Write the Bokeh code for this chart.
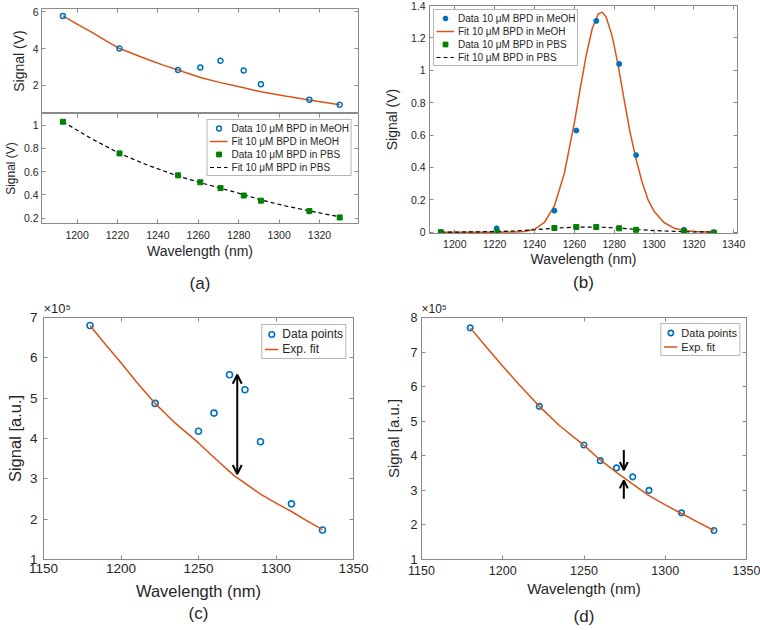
from bokeh.plotting import figure
from bokeh.layouts import row, column
from bokeh.models import Legend, LegendItem, FixedTicker, LinearAxis, Arrow, OpenHead
from bokeh.embed import file_html
from bokeh.resources import INLINE

FONT = "Liberation Sans"
BLUE = "#0072BD"
ORANGE = "#D95319"
GREEN = "#008000"
FRAME = "#8a8a8a"
TXT = "#262626"
NAN = float("nan")

# ---------------- data ----------------
# panel (a) and (b): wavelengths (nm)
wl_ab = [1193, 1221, 1250, 1261, 1271, 1282.5, 1291, 1315, 1330]
# (a) top: 10 uM BPD in MeOH (V)
a_meoh = [5.78, 4.00, 2.83, 2.97, 3.33, 2.80, 2.05, 1.20, 0.93]
a_fit_meoh_x = [1193, 1200, 1207, 1214, 1221, 1228, 1236, 1243, 1250, 1261, 1271, 1282, 1291, 1303, 1315, 1322, 1330]
a_fit_meoh = [5.78, 5.33, 4.91, 4.45, 4.00, 3.70, 3.36, 3.08, 2.83, 2.42, 2.14, 1.87, 1.64, 1.41, 1.19, 1.07, 0.93]
# (a) bottom: 10 uM BPD in PBS (V)
a_pbs = [1.03, 0.757, 0.568, 0.508, 0.458, 0.394, 0.350, 0.260, 0.205]
a_fit_pbs_x = [1193, 1207, 1221, 1235, 1250, 1261, 1271, 1282.5, 1291, 1303, 1315, 1330]
a_fit_pbs = [1.03, 0.885, 0.757, 0.655, 0.562, 0.505, 0.458, 0.402, 0.356, 0.305, 0.262, 0.21]
# (b)
b_meoh = [0.0, 0.024, 0.133, 0.628, 1.305, 1.039, 0.476, 0.015, 0.0]
b_pbs = [0.0, 0.003, 0.026, 0.032, 0.032, 0.024, 0.015, 0.005, -0.003]
b_fit_meoh_x = [1193, 1200, 1210, 1220, 1230, 1235, 1240, 1245, 1250, 1255, 1260, 1263, 1266, 1269,
                1272, 1274, 1276, 1279, 1282, 1285, 1288, 1291, 1294, 1297, 1300, 1305, 1310, 1315, 1320, 1330]
b_fit_meoh = [0.0, 0.0, 0.0, 0.0, 0.001, 0.005, 0.018, 0.06, 0.162, 0.364, 0.675, 0.89, 1.095, 1.258,
              1.348, 1.359, 1.328, 1.211, 1.03, 0.818, 0.615, 0.45, 0.31, 0.20, 0.13, 0.06, 0.025, 0.01, 0.004, 0.0]
b_fit_pbs_x = [1193, 1210, 1221, 1230, 1240, 1250, 1261, 1271, 1282, 1291, 1300, 1315, 1330]
b_fit_pbs = [0.0, 0.002, 0.004, 0.008, 0.015, 0.025, 0.031, 0.032, 0.026, 0.017, 0.010, 0.003, 0.001]
# (c) signal in units of 1e5 a.u.
c_wl = [1180, 1222, 1250, 1260, 1270, 1280, 1290, 1310, 1330]
c_sig = [6.80, 4.87, 4.18, 4.63, 5.58, 5.21, 3.92, 2.38, 1.73]
c_fit_x = [1180, 1190, 1200, 1210, 1222, 1235, 1250, 1260, 1273, 1290, 1300, 1310, 1320, 1330]
c_fit = [6.80, 6.33, 5.88, 5.40, 4.87, 4.38, 3.89, 3.53, 3.08, 2.62, 2.40, 2.19, 1.96, 1.74]
c_arrow_x = 1275
c_arrow_y = [3.12, 5.58]
# (d)
d_wl = [1180, 1222.5, 1250, 1260, 1270, 1280, 1290, 1310, 1330]
d_sig = [7.70, 5.43, 4.31, 3.86, 3.65, 3.39, 3.00, 2.35, 1.84]
d_fit_x = [1180, 1190, 1200, 1210, 1222.5, 1235, 1250, 1260, 1270, 1280, 1290, 1300, 1310, 1320, 1330]
d_fit = [7.70, 7.14, 6.59, 6.06, 5.43, 4.87, 4.30, 3.88, 3.52, 3.18, 2.85, 2.58, 2.33, 2.08, 1.84]
d_arrow_x = 1274.5
d_arrow_down = [4.17, 3.59]
d_arrow_up = [2.76, 3.29]

# ticks
a_xticks = [1200, 1220, 1240, 1260, 1280, 1300, 1320]
b_xticks = [1200, 1220, 1240, 1260, 1280, 1300, 1320, 1340]
cd_xticks = [1150, 1200, 1250, 1300, 1350]
a_top_yticks = [2, 4, 6]
a_bot_yticks = [0.2, 0.4, 0.6, 0.8, 1.0]
a_bot_ylabels = ["0.2", "0.4", "0.6", "0.8", "1"]
b_yticks = [0.0, 0.2, 0.4, 0.6, 0.8, 1.0, 1.2, 1.4]
b_ylabels = ["0", "0.2", "0.4", "0.6", "0.8", "1", "1.2", "1.4"]
c_yticks = [1, 2, 3, 4, 5, 6, 7]
d_yticks = [1, 2, 3, 4, 5, 6, 7, 8]

lbl_meoh_data = "Data 10 \u03bcM BPD in MeOH"
lbl_meoh_fit = "Fit 10 \u03bcM BPD in MeOH"
lbl_pbs_data = "Data 10 \u03bcM BPD in PBS"
lbl_pbs_fit = "Fit 10 \u03bcM BPD in PBS"


def make_fig(w, h, xr, yr, bl, br, bt, bb, **kw):
    p = figure(width=w, height=h, x_range=xr, y_range=yr, output_backend="svg",
               toolbar_location=None, min_border_left=bl, min_border_right=br,
               min_border_top=bt, min_border_bottom=bb, **kw)
    p.xgrid.visible = False
    p.ygrid.visible = False
    p.outline_line_color = FRAME
    p.outline_line_width = 1
    p.background_fill_color = "white"
    p.border_fill_color = "white"
    return p


def style_axis(ax, ticks, labels, tick_font, lab_font, tick_standoff, lab_standoff, label):
    ax.ticker = FixedTicker(ticks=ticks)
    if labels is not None:
        ax.major_label_overrides = {t: s for t, s in zip(ticks, labels)}
    ax.major_tick_in = 4
    ax.major_tick_out = 0
    ax.minor_tick_line_color = None
    ax.axis_line_color = FRAME
    ax.major_tick_line_color = FRAME
    ax.major_label_text_font = FONT
    ax.major_label_text_font_size = tick_font
    ax.major_label_text_color = TXT
    ax.major_label_standoff = tick_standoff
    ax.axis_label = label
    ax.axis_label_text_font = FONT
    ax.axis_label_text_font_size = lab_font
    ax.axis_label_text_font_style = "normal"
    ax.axis_label_text_color = TXT
    ax.axis_label_standoff = lab_standoff


def tick_only_axis(ticks):
    # inward ticks, no labels drawn (MATLAB-style box ticks)
    return LinearAxis(ticker=FixedTicker(ticks=ticks), axis_line_color=None,
                      major_tick_line_color=FRAME, minor_tick_line_color=None,
                      major_tick_in=4, major_tick_out=0, major_label_standoff=0,
                      major_label_text_font_size="1px", major_label_text_color=None,
                      major_label_text_alpha=0)


def box_ticks(p, xticks, yticks):
    p.add_layout(tick_only_axis(xticks), "above")
    p.add_layout(tick_only_axis(yticks), "right")


def panel_label(p, text, standoff):
    # an extra, tick-less axis below the x axis that only carries the panel label
    ax = LinearAxis(ticker=FixedTicker(ticks=[]), axis_line_color=None, major_tick_line_color=None,
                    minor_tick_line_color=None, major_tick_in=0, major_tick_out=0,
                    major_label_standoff=0, major_label_text_color=None,
                    axis_label=text, axis_label_standoff=standoff, axis_label_text_font=FONT,
                    axis_label_text_font_size="17px", axis_label_text_font_style="normal",
                    axis_label_text_color=TXT)
    p.add_layout(ax, "below")


def legend(p, items, loc, font, lh, glyph_w, spacing, padding, margin):
    lg = Legend(items=items, location=loc, label_text_font=FONT, label_text_font_size=font,
                label_text_color=TXT, glyph_width=glyph_w, glyph_height=lh, label_height=lh,
                spacing=spacing, padding=padding, margin=margin, label_standoff=4,
                border_line_color="#6e6e6e", border_line_width=1, background_fill_alpha=1.0)
    p.add_layout(lg)
    return lg


def mult_title(p, size):
    p.title.text = "\u00d710\u2075"
    p.title.align = "left"
    p.title.text_font = FONT
    p.title.text_font_size = size
    p.title.text_font_style = "normal"
    p.title.text_color = TXT
    p.title.standoff = 4


# ---------------- panel (a) top ----------------
a_top = make_fig(380, 113, (1182.4, 1339.3), (0.456, 6.185), 37, 22, 8, 0, x_axis_location=None)
style_axis(a_top.yaxis[0], a_top_yticks, None, "10.5px", "14px", 3, 3, "Signal (V)")
box_ticks(a_top, a_xticks, a_top_yticks)
a_top.line(a_fit_meoh_x, a_fit_meoh, line_color=ORANGE, line_width=1.5)
a_top.scatter(wl_ab, a_meoh, marker="circle", size=5, line_color=BLUE, line_width=1.5, fill_color=None)

# ---------------- panel (a) bottom ----------------
a_bot = make_fig(380, 182, (1182.4, 1339.3), (0.153, 1.101), 37, 22, 0, 72)
style_axis(a_bot.xaxis[0], a_xticks, None, "10.5px", "14px", 7, 1, "Wavelength (nm)")
style_axis(a_bot.yaxis[0], a_bot_yticks, a_bot_ylabels, "10.5px", "12px", 3, 3, "Signal (V)")
box_ticks(a_bot, a_xticks, a_bot_yticks)
r_fit_pbs = a_bot.line(a_fit_pbs_x, a_fit_pbs, line_color="black", line_width=1.2, line_dash="4 3")
r_pbs = a_bot.scatter(wl_ab, a_pbs, marker="square", size=5, line_color=GREEN, fill_color=GREEN)
# legend-only renderers for the MeOH series (the data are drawn in the upper axes)
r_leg_md = a_bot.scatter([NAN], [NAN], marker="circle", size=5, line_color=BLUE, line_width=1.5, fill_color=None)
r_leg_mf = a_bot.line([NAN, NAN], [NAN, NAN], line_color=ORANGE, line_width=1.5)
legend(a_bot, [LegendItem(label=lbl_meoh_data, renderers=[r_leg_md]),
               LegendItem(label=lbl_meoh_fit, renderers=[r_leg_mf]),
               LegendItem(label=lbl_pbs_data, renderers=[r_pbs]),
               LegendItem(label=lbl_pbs_fit, renderers=[r_fit_pbs])],
       "top_right", "10px", 12, 18, 1, 2, 6)
panel_label(a_bot, "(a)", 12)

# ---------------- panel (b) ----------------
b = make_fig(380, 295, (1187.3, 1341.9), (-0.008, 1.4), 49, 23, 5, 62)
style_axis(b.xaxis[0], b_xticks, None, "10.5px", "14px", 6, 0, "Wavelength (nm)")
style_axis(b.yaxis[0], b_yticks, b_ylabels, "10.5px", "14px", 4, 8, "Signal (V)")
box_ticks(b, b_xticks, b_yticks)
rb_mf = b.line(b_fit_meoh_x, b_fit_meoh, line_color=ORANGE, line_width=1.5)
rb_pf = b.line(b_fit_pbs_x, b_fit_pbs, line_color="black", line_width=1.2, line_dash="4 3")
rb_md = b.scatter(wl_ab, b_meoh, marker="circle", size=5, line_color=BLUE, fill_color=BLUE)
rb_pd = b.scatter(wl_ab, b_pbs, marker="square", size=5, line_color=GREEN, fill_color=GREEN)
legend(b, [LegendItem(label=lbl_meoh_data, renderers=[rb_md]),
           LegendItem(label=lbl_meoh_fit, renderers=[rb_mf]),
           LegendItem(label=lbl_pbs_data, renderers=[rb_pd]),
           LegendItem(label=lbl_pbs_fit, renderers=[rb_pf])],
       "top_left", "10px", 12, 18, 1, 2, 4)
panel_label(b, "(b)", 3)

# ---------------- panel (c) ----------------
c = make_fig(380, 335, (1150, 1350), (1, 7), 43, 27, 22, 70)
style_axis(c.xaxis[0], cd_xticks, None, "13.5px", "16.5px", 4, 6, "Wavelength (nm)")
style_axis(c.yaxis[0], c_yticks, None, "13.5px", "16.5px", 6, 3, "Signal [a.u.]")
box_ticks(c, cd_xticks, c_yticks)
mult_title(c, "13px")
rc_d = c.scatter(c_wl, c_sig, marker="circle", size=6, line_color=BLUE, line_width=1.6, fill_color=None)
rc_f = c.line(c_fit_x, c_fit, line_color=ORANGE, line_width=1.5)
c.add_layout(Arrow(start=OpenHead(size=9, line_width=2), end=OpenHead(size=9, line_width=2),
                   x_start=c_arrow_x, y_start=c_arrow_y[0], x_end=c_arrow_x, y_end=c_arrow_y[1],
                   line_width=2, line_color="black"))
legend(c, [LegendItem(label="Data points", renderers=[rc_d]),
           LegendItem(label="Exp. fit", renderers=[rc_f])],
       "top_right", "12px", 14, 14, 1, 2, 7)
panel_label(c, "(c)", 1)

# ---------------- panel (d) ----------------
d = make_fig(380, 335, (1150, 1350), (1, 8), 41, 14, 22, 71)
style_axis(d.xaxis[0], cd_xticks, None, "12.5px", "15px", 6, 2, "Wavelength (nm)")
style_axis(d.yaxis[0], d_yticks, None, "12.5px", "15px", 4, 6, "Signal [a.u.]")
box_ticks(d, cd_xticks, d_yticks)
mult_title(d, "12px")
rd_d = d.scatter(d_wl, d_sig, marker="circle", size=5.5, line_color=BLUE, line_width=1.6, fill_color=None)
rd_f = d.line(d_fit_x, d_fit, line_color=ORANGE, line_width=1.5)
d.add_layout(Arrow(end=OpenHead(size=8, line_width=2), x_start=d_arrow_x, y_start=d_arrow_down[0],
                   x_end=d_arrow_x, y_end=d_arrow_down[1], line_width=2, line_color="black"))
d.add_layout(Arrow(end=OpenHead(size=8, line_width=2), x_start=d_arrow_x, y_start=d_arrow_up[0],
                   x_end=d_arrow_x, y_end=d_arrow_up[1], line_width=2, line_color="black"))
legend(d, [LegendItem(label="Data points", renderers=[rd_d]),
           LegendItem(label="Exp. fit", renderers=[rd_f])],
       "top_right", "11px", 13, 14, 1, 2, 6)
panel_label(d, "(d)", 7)

layout = column(row(column(a_top, a_bot), b), row(c, d))

open("out.html", "w").write(file_html(layout, INLINE))
